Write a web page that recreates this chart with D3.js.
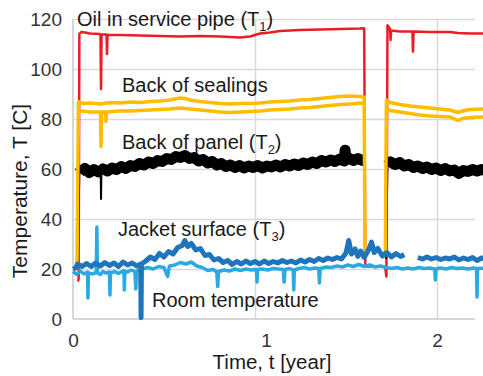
<!DOCTYPE html>
<html>
<head>
<meta charset="utf-8">
<script src="https://cdn.jsdelivr.net/npm/d3@7"></script>
<style>
  body { margin: 0; background: #fff; }
  text { font-family: "Liberation Sans", Arial, sans-serif; }
</style>
</head>
<body>
<script>
// time in years, temperature in C; null breaks a line
const xTicks = [0, 1, 2];
const yTicks = [0, 20, 40, 60, 80, 100, 120];

const oilPipe = [
  [0.027, 15], [0.031, 16], [0.035, 114], [0.045, 114.8], [0.066, 114.6], [0.093, 114.2],
  [0.148, 114], [0.151, 113.8], [0.154, 92], [0.157, 113.8], [0.184, 113.8], [0.187, 106],
  [0.190, 113.6], [0.258, 113.6], [0.368, 113.4], [0.478, 113.2], [0.588, 113], [0.698, 113.2],
  [0.808, 113], [0.918, 112.6], [0.973, 113], [1.027, 114.2], [1.082, 114.6], [1.137, 115.2],
  [1.192, 115.4], [1.247, 115.6], [1.357, 115.8], [1.467, 116], [1.577, 116.2], [1.600, 116.3],
  [1.606, 21], [1.715, 21], [1.722, 17], [1.728, 117.5], [1.742, 116], [1.745, 111.6],
  [1.748, 115.4], [1.797, 115], [1.865, 115], [1.868, 107], [1.871, 115], [1.962, 114.8],
  [2.071, 114.8], [2.115, 114.4], [2.181, 114.2], [2.26, 114.2]
];

const sealingsUpper = [
  [0.022, 20], [0.030, 87], [0.038, 86.6], [0.066, 86.2], [0.093, 86.4], [0.148, 86],
  [0.203, 86.6], [0.258, 86.4], [0.313, 86.8], [0.368, 86.6], [0.423, 87], [0.478, 87.2],
  [0.533, 87.6], [0.588, 88.4], [0.615, 88.2], [0.643, 87.6], [0.698, 87], [0.753, 86.6],
  [0.808, 86.2], [0.863, 86], [0.918, 86.2], [0.973, 86.2], [1.027, 86.4], [1.082, 86.8],
  [1.137, 87], [1.192, 87.2], [1.247, 87.6], [1.302, 87.8], [1.357, 88.2], [1.412, 88.6],
  [1.467, 89], [1.522, 89.2], [1.577, 89], [1.600, 88.8], [1.604, 26], null,
  [1.716, 25], [1.722, 87.5], [1.742, 86.6], [1.797, 85.8], [1.852, 85.2], [1.907, 84.8],
  [1.962, 84.4], [2.016, 84], [2.071, 83.6], [2.115, 82.6], [2.140, 83.2], [2.181, 83.8], [2.26, 84]
];

const sealingsLower = [
  [0.030, 83.4], [0.066, 83], [0.093, 82.8], [0.151, 82.8], [0.154, 69], [0.157, 82.8],
  [0.178, 82.8], [0.181, 79], [0.184, 82.8], [0.258, 83.2], [0.313, 83.2], [0.368, 83.4],
  [0.423, 83.6], [0.478, 83.8], [0.533, 84], [0.588, 84.4], [0.643, 84], [0.698, 83.6],
  [0.753, 83.2], [0.808, 82.8], [0.863, 82.6], [0.918, 82.8], [0.973, 83], [1.027, 83.2],
  [1.082, 83.6], [1.137, 83.8], [1.192, 84], [1.247, 84.4], [1.302, 84.6], [1.357, 85],
  [1.412, 85.4], [1.467, 85.8], [1.522, 86], [1.577, 86.4], [1.600, 86.2], null,
  [1.728, 84], [1.742, 83.4], [1.797, 82.8], [1.852, 82.2], [1.907, 81.6], [1.962, 81.2],
  [2.016, 81], [2.071, 80.8], [2.115, 79.4], [2.140, 80.2], [2.181, 80.6], [2.26, 80.8]
];

const panel = [
  [0.025, 20], [0.035, 58.5], [0.040, 59.0], [0.065, 60.2], [0.090, 58.6], [0.115, 59.8],
  [0.140, 58.8], [0.152, 59.0], [0.154, 48], [0.156, 59.0], [0.165, 60.0], [0.190, 59.2],
  [0.215, 60.4], [0.240, 59.8], [0.265, 61.0], [0.290, 60.2], [0.315, 61.4], [0.340, 61.0],
  [0.365, 62.2], [0.390, 61.6], [0.415, 62.8], [0.440, 62.2], [0.465, 63.4], [0.490, 63.0],
  [0.515, 64.2], [0.540, 63.8], [0.565, 65.0], [0.590, 64.6], [0.615, 65.4], [0.640, 64.2],
  [0.665, 64.6], [0.690, 63.2], [0.715, 63.8], [0.740, 62.4], [0.765, 63.0], [0.790, 61.6],
  [0.815, 62.2], [0.840, 61.0], [0.865, 61.6], [0.890, 60.6], [0.915, 61.4], [0.940, 60.4],
  [0.965, 61.2], [0.990, 60.6], [1.015, 61.4], [1.040, 60.4], [1.065, 61.2], [1.090, 60.8],
  [1.115, 61.6], [1.140, 60.8], [1.165, 61.8], [1.190, 61.2], [1.215, 62.0], [1.240, 61.4],
  [1.265, 62.4], [1.290, 61.8], [1.315, 62.8], [1.340, 62.2], [1.365, 63.4], [1.390, 62.8],
  [1.415, 63.6], [1.440, 63.0], [1.465, 64.0], [1.490, 63.2], [1.495, 67.5], [1.500, 63.6],
  [1.515, 64.4], [1.540, 63.4], [1.565, 64.2], [1.590, 63.4], [1.600, 63.6], [1.604, 26], null,
  [1.720, 24], [1.728, 61.5], [1.745, 62.8], [1.770, 61.8], [1.795, 62.6], [1.820, 61.2],
  [1.845, 61.8], [1.870, 60.6], [1.895, 61.2], [1.920, 60.2], [1.945, 60.8], [1.970, 59.8],
  [1.995, 60.4], [2.020, 59.4], [2.045, 60.2], [2.070, 59.2], [2.095, 59.6], [2.120, 58.2],
  [2.145, 59.4], [2.170, 59.0], [2.195, 59.8], [2.220, 59.2], [2.245, 59.8], [2.265, 59.4]
];

const jacket = [
  [0.000, 20.0], [0.015, 20.4], [0.025, 22.0], [0.050, 21.0], [0.075, 22.2], [0.100, 21.0],
  [0.125, 22.4], [0.150, 21.2], [0.175, 22.6], [0.200, 21.4], [0.225, 22.4], [0.250, 21.0],
  [0.275, 22.8], [0.300, 21.6], [0.325, 22.4], [0.350, 21.2], [0.372, 22.0], [0.374, 0.5],
  [0.376, 22.0], [0.400, 23.2], [0.425, 24.8], [0.450, 23.8], [0.475, 26.2], [0.500, 24.8],
  [0.525, 27.0], [0.550, 26.0], [0.575, 28.6], [0.600, 29.4], [0.615, 31.4], [0.630, 29.0],
  [0.650, 30.2], [0.675, 27.6], [0.700, 28.2], [0.725, 25.4], [0.750, 25.8], [0.775, 23.6],
  [0.800, 24.2], [0.825, 22.6], [0.850, 23.4], [0.875, 21.8], [0.900, 23.0], [0.925, 22.0],
  [0.950, 23.2], [0.975, 22.2], [1.000, 23.0], [1.025, 22.0], [1.050, 23.2], [1.075, 22.2],
  [1.100, 23.0], [1.125, 22.4], [1.150, 23.4], [1.175, 22.6], [1.200, 23.2], [1.225, 22.4],
  [1.250, 23.6], [1.275, 22.8], [1.300, 23.8], [1.325, 23.0], [1.350, 24.2], [1.375, 23.4],
  [1.400, 24.4], [1.425, 23.8], [1.450, 24.6], [1.475, 24.0], [1.500, 26.4], [1.515, 31.4],
  [1.530, 26.0], [1.550, 28.0], [1.565, 25.0], [1.580, 27.2], [1.600, 24.6], [1.625, 27.8],
  [1.640, 30.8], [1.655, 26.6], [1.675, 28.2], [1.700, 25.2], [1.725, 26.6], [1.750, 24.8],
  [1.775, 26.2], [1.800, 25.0], [1.820, 25.8], null,
  [1.895, 24.6], [1.920, 24.0], [1.945, 24.8], [1.970, 24.0], [1.995, 24.6], [2.020, 23.8],
  [2.045, 24.4], [2.070, 24.0], [2.095, 24.8], [2.120, 23.6], [2.145, 24.4], [2.170, 23.8],
  [2.195, 24.6], [2.220, 23.4], [2.245, 24.4], [2.265, 24.0]
];

const room = [
  [0.000, 19.0], [0.020, 17.8], [0.040, 19.2], [0.060, 18.0], [0.080, 18.8], [0.082, 8.4],
  [0.085, 18.6], [0.105, 18.0], [0.128, 18.6], [0.131, 36.8], [0.134, 18.4], [0.150, 17.8],
  [0.165, 19.0], [0.180, 18.4], [0.200, 18.8], [0.203, 9.6], [0.206, 18.4], [0.230, 19.0],
  [0.250, 18.2], [0.280, 19.4], [0.282, 11.6], [0.285, 19.0], [0.300, 18.8], [0.320, 19.6],
  [0.340, 19.0], [0.345, 12.0], [0.350, 19.2], [0.380, 20.0], [0.410, 20.6], [0.440, 20.0],
  [0.470, 21.0], [0.500, 20.6], [0.520, 17.0], [0.530, 21.2], [0.560, 21.6], [0.590, 22.6],
  [0.620, 22.0], [0.650, 22.8], [0.680, 21.2], [0.710, 20.6], [0.740, 19.4], [0.770, 19.8],
  [0.790, 18.8], [0.795, 13.0], [0.800, 19.0], [0.830, 19.6], [0.860, 19.2], [0.890, 20.0],
  [0.920, 19.4], [0.950, 20.0], [0.980, 19.6], [1.008, 19.8], [1.011, 14.8], [1.014, 19.8],
  [1.040, 20.0], [1.070, 19.6], [1.100, 20.2], [1.155, 19.8], [1.160, 14.8], [1.165, 19.8],
  [1.190, 20.2], [1.210, 19.6], [1.213, 11.6], [1.216, 19.6], [1.240, 20.2], [1.270, 20.6],
  [1.300, 20.0], [1.330, 20.4], [1.350, 20.2], [1.354, 14.4], [1.358, 20.2], [1.390, 20.8],
  [1.420, 20.6], [1.450, 21.2], [1.480, 20.8], [1.510, 21.6], [1.540, 21.0], [1.570, 21.8],
  [1.600, 21.0], [1.630, 21.6], [1.660, 20.8], [1.690, 21.2], [1.720, 20.6], [1.750, 20.2],
  [1.780, 20.6], [1.810, 20.0], [1.840, 20.4], [1.870, 20.0], [1.900, 20.6], [1.930, 20.2],
  [1.960, 20.4], [1.988, 20.0], [1.991, 15.6], [1.994, 20.0], [2.020, 20.4], [2.050, 20.0],
  [2.080, 20.6], [2.110, 20.2], [2.140, 20.4], [2.170, 20.0], [2.200, 20.4], [2.217, 20.2],
  [2.220, 8.8], [2.223, 20.2], [2.265, 20.4]
];

const W = 483, H = 376;
const plotLeft = 73, plotTop = 19, plotBottom = 319, gridRight = 475;

const svg = d3.select("body").append("svg")
  .attr("width", W)
  .attr("height", H);

const x = d3.scaleLinear().domain([0, 2]).range([plotLeft, 437]);
const y = d3.scaleLinear().domain([0, 120]).range([plotBottom, plotTop]);

// grid
svg.append("g")
  .attr("transform", "translate(" + plotLeft + ",0)")
  .call(d3.axisLeft(y).tickValues(yTicks.slice(1)).tickSize(-(gridRight - plotLeft)).tickFormat(""))
  .call(g => g.select(".domain").remove())
  .call(g => g.selectAll("line").attr("stroke", "#d9d9d9").attr("stroke-width", 1.5));

svg.append("g")
  .attr("transform", "translate(0," + plotBottom + ")")
  .call(d3.axisBottom(x).tickValues(xTicks.slice(1)).tickSize(-(plotBottom - plotTop)).tickFormat(""))
  .call(g => g.select(".domain").remove())
  .call(g => g.selectAll("line").attr("stroke", "#d9d9d9").attr("stroke-width", 1.5));

// axis lines
svg.append("line").attr("x1", plotLeft).attr("x2", plotLeft).attr("y1", plotTop).attr("y2", plotBottom)
  .attr("stroke", "#c8c8c8").attr("stroke-width", 1.5);
svg.append("line").attr("x1", plotLeft).attr("x2", gridRight).attr("y1", plotBottom).attr("y2", plotBottom)
  .attr("stroke", "#c8c8c8").attr("stroke-width", 1.5);

// tick labels
svg.append("g")
  .attr("transform", "translate(" + plotLeft + ",0)")
  .call(d3.axisLeft(y).tickValues(yTicks).tickSize(0).tickPadding(11))
  .call(g => g.select(".domain").remove())
  .call(g => g.selectAll("text").attr("font-size", 19).attr("fill", "#333")
    .attr("font-family", "Liberation Sans, Arial, sans-serif"));

svg.append("g")
  .attr("transform", "translate(0," + plotBottom + ")")
  .call(d3.axisBottom(x).tickValues(xTicks).tickFormat(d3.format("d")).tickSize(0).tickPadding(15))
  .call(g => g.select(".domain").remove())
  .call(g => g.selectAll("text").attr("font-size", 19).attr("fill", "#333")
    .attr("font-family", "Liberation Sans, Arial, sans-serif")
    .attr("dx", d => d === 1 ? 11 : 0));

// series
const line = d3.line()
  .defined(d => d !== null)
  .x(d => x(d[0]))
  .y(d => y(d[1]));

// the panel band is drawn thick only on its plateaus, ramps and dips stay thin
const panelBand = panel.map(d => d && d[1] > 50 ? d : null);

const series = [
  { data: oilPipe, color: "#ec1c24", width: 2.5 },
  { data: panel, color: "#000000", width: 2 },
  { data: panelBand, color: "#000000", width: 11 },
  { data: sealingsUpper, color: "#ffbc00", width: 3.5 },
  { data: sealingsLower, color: "#ffbc00", width: 3.5 },
  { data: room, color: "#2aaae2", width: 3.5 },
  { data: jacket, color: "#1f74bb", width: 5 }
];

svg.append("g")
  .selectAll("path")
  .data(series)
  .join("path")
  .attr("d", d => line(d.data))
  .attr("fill", "none")
  .attr("stroke", d => d.color)
  .attr("stroke-width", d => d.width)
  .attr("stroke-linejoin", "round");

// annotations
const notes = [
  { x: 77, y: 26, text: "Oil in service pipe (T", sub: "1" },
  { x: 122, y: 92, text: "Back of sealings" },
  { x: 122, y: 149, text: "Back of panel (T", sub: "2" },
  { x: 118, y: 236, text: "Jacket surface (T", sub: "3" },
  { x: 152, y: 307, text: "Room temperature" }
];

const note = svg.append("g")
  .selectAll("text")
  .data(notes)
  .join("text")
  .attr("x", d => d.x)
  .attr("y", d => d.y)
  .attr("font-size", 20)
  .attr("fill", "#1a1a1a");

note.append("tspan").text(d => d.text);
note.filter(d => d.sub).append("tspan").attr("font-size", 13).attr("dy", 5).text(d => d.sub);
note.filter(d => d.sub).append("tspan").attr("dy", -5).text(")");

// axis titles
svg.append("text")
  .attr("x", 272)
  .attr("y", 369)
  .attr("text-anchor", "middle")
  .attr("font-size", 20.5)
  .attr("fill", "#1a1a1a")
  .text("Time, t [year]");

svg.append("text")
  .attr("transform", "translate(27,191) rotate(-90)")
  .attr("text-anchor", "middle")
  .attr("font-size", 21)
  .attr("fill", "#1a1a1a")
  .text("Temperature, T [C]");
</script>
</body>
</html>
